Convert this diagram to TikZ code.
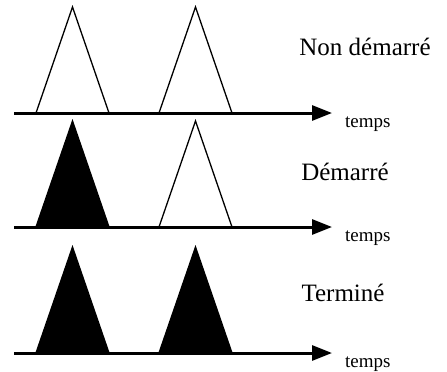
\documentclass[tikz,border=0pt]{standalone}
\usepackage{fontspec}
\setmainfont{Liberation Serif}
\usetikzlibrary{arrows.meta, positioning}

\begin{document}
\begin{tikzpicture}[x=1pt, y=-1pt,
    axis/.style={line width=3pt, -{Triangle[length=20pt, width=15pt]}},
    open/.style={draw, line width=1.3pt, fill=white, line join=miter},
    done/.style={draw, line width=1.3pt, fill=black, line join=miter},
    state/.style={font=\fontsize{25}{30}\selectfont, inner sep=0pt},
    unit/.style={font=\fontsize{19}{23}\selectfont, anchor=west, inner sep=0pt},
]
  \useasboundingbox (0,0) rectangle (447,372);

  % one time line per task state
  \foreach \row/\ybase/\sa/\sb in {1/113/open/open, 2/227/done/open, 3/353/done/done} {
    \draw[\sa] (36,\ybase) -- ++(36.5,-106) -- ++(36.5,106) -- cycle;
    \draw[\sb] (159,\ybase) -- ++(36.5,-106) -- ++(36.5,106) -- cycle;
    \coordinate (s\row) at (14,\ybase);
    \coordinate (e\row) at (332,\ybase);
    \draw[axis] (s\row) -- (e\row);
    \node[unit] (t\row) at (345,\ybase+11) {temps};
  }

  \node[state] (ns) at (365,47) {Non démarré};
  \node[state] (st) at (345,172) {Démarré};
  \node[state] (tm) at (343,293) {Terminé};
\end{tikzpicture}
\end{document}
